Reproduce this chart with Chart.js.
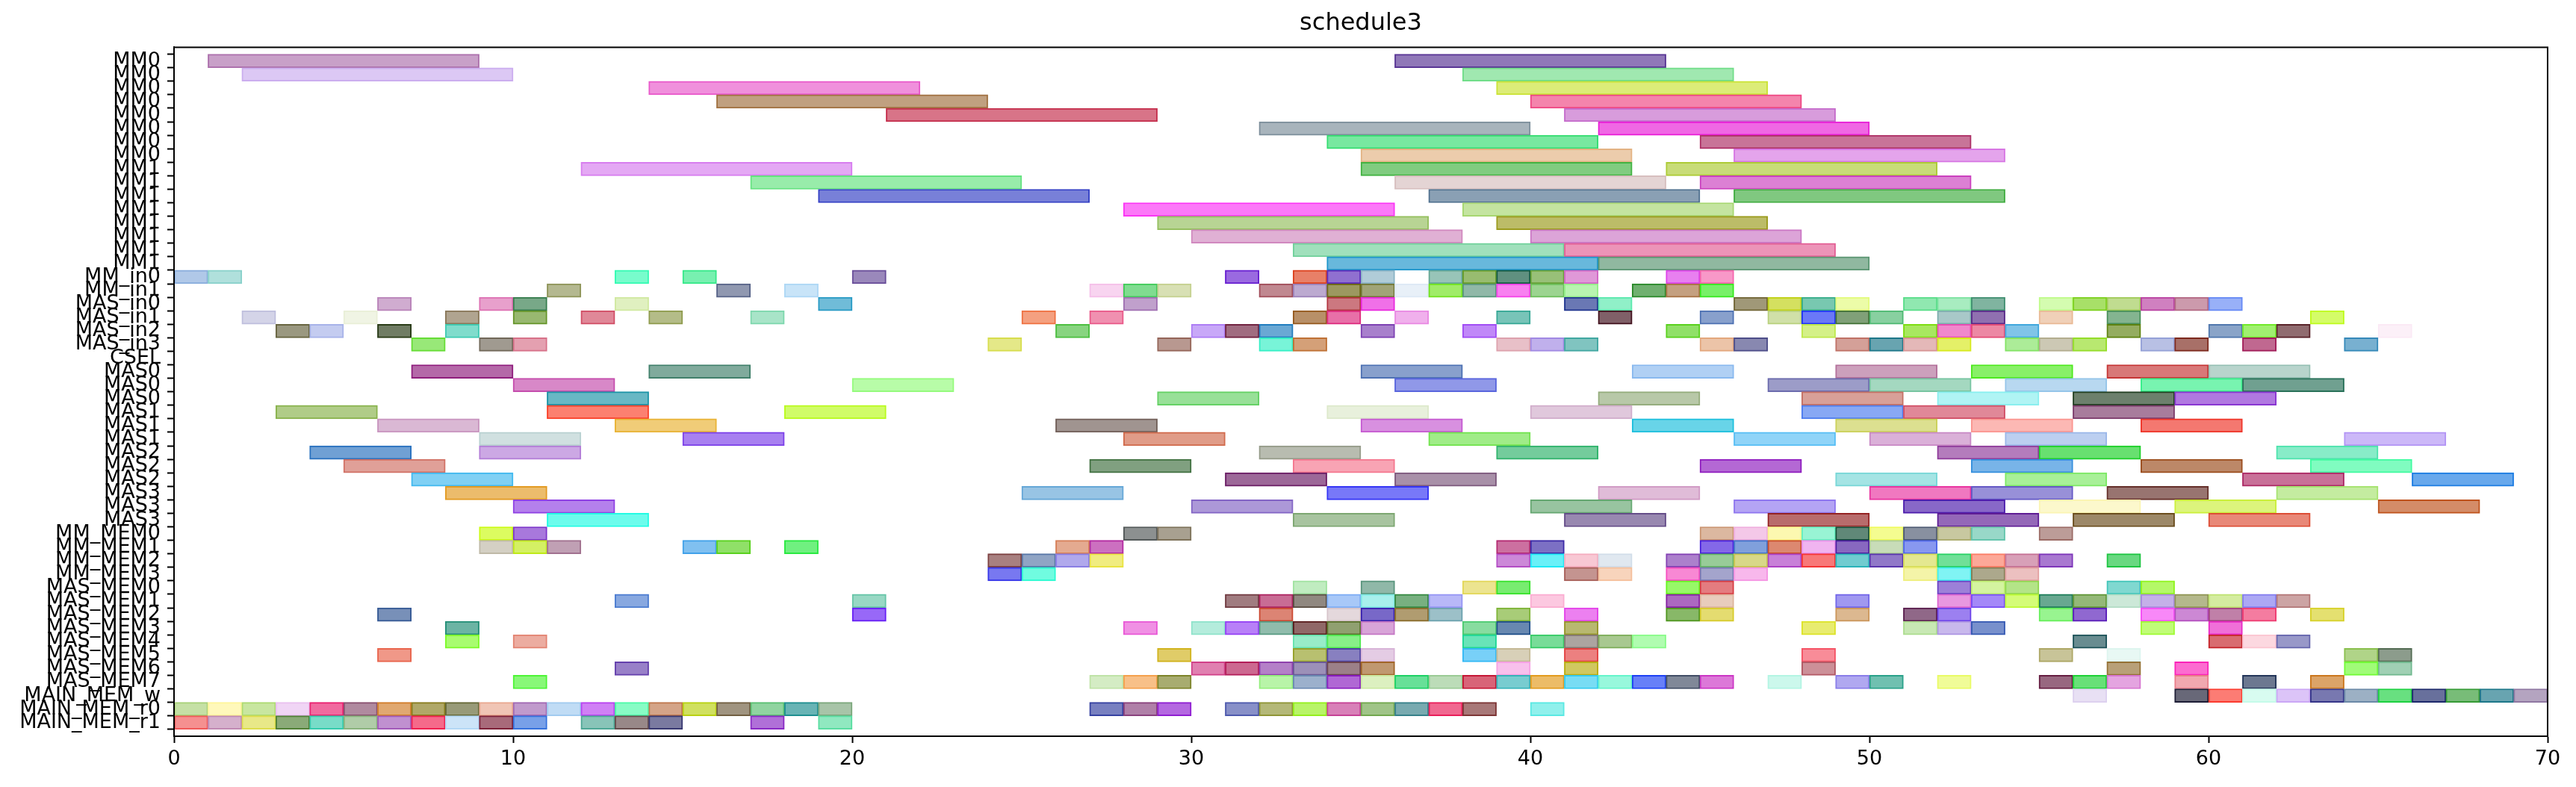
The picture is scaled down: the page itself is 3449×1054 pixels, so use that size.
<!DOCTYPE html>
<html><head><meta charset="utf-8">
<script src="https://cdn.jsdelivr.net/npm/chart.js@4.4.1/dist/chart.umd.min.js"></script>
<style>html,body{margin:0;padding:0;background:#fff;}#wrap{width:3449px;height:1054px;}</style>
</head><body><div id="wrap"><canvas id="c" width="3449" height="1054"></canvas></div>
<script>
const rowLabels = ['MM0','MM0','MM0','MM0','MM0','MM0','MM0','MM0',
  'MM1','MM1','MM1','MM1','MM1','MM1','MM1','MM1',
  'MM_in0','MM_in1','MAS_in0','MAS_in1','MAS_in2','MAS_in3','CSEL',
  'MAS0','MAS0','MAS0','MAS1','MAS1','MAS1','MAS2','MAS2','MAS2','MAS3','MAS3','MAS3',
  'MM_MEM0','MM_MEM1','MM_MEM2','MM_MEM3',
  'MAS_MEM0','MAS_MEM1','MAS_MEM2','MAS_MEM3','MAS_MEM4','MAS_MEM5','MAS_MEM6','MAS_MEM7',
  'MAIN_MEM_w','MAIN_MEM_r0','MAIN_MEM_r1'];

const xTicks = [0,10,20,30,40,50,60,70];

const barStarts = [
 [1,36],[2,38],[14,39],[16,40],[21,41],[32,42],[34,45],[35,46],
 [12,35,44],[17,36,45],[19,37,46],[28,38],[29,39],[30,40],[33,41],[34,42],
 [0,1,13,15,20,31,33,34,35,37,38,39,40,41,44,45],
 [11,16,18,27,28,29,32,33,34,35,36,37,38,39,40,41,43,44,45],
 [6,9,10,13,19,28,34,35,41,42,46,47,48,49,51,52,53,55,56,57,58,59,60],
 [2,5,8,10,12,14,17,25,27,33,34,36,39,42,45,47,48,49,50,52,53,55,57,63],
 [3,4,6,8,26,30,31,32,35,38,44,48,51,52,53,54,57,60,61,62,65],
 [7,9,10,24,29,32,33,39,40,41,45,46,49,50,51,52,54,55,56,58,59,61,64],
 [],
 [7,14,35,43,49,53,57,60],
 [10,20,36,47,50,54,58,61],
 [11,29,42,48,52,56,59],
 [3,11,18,34,40,48,51,56],
 [6,13,26,35,43,49,53,58],
 [9,15,28,37,46,50,54,64],
 [4,9,32,39,52,55,62],
 [5,27,33,45,53,58,63],
 [7,31,36,49,54,61,66],
 [8,25,34,42,50,53,57,62],
 [10,30,40,46,51,55,59,65],
 [11,33,41,47,52,56,60],
 [9,10,28,29,45,46,47,48,49,50,51,52,53,55],
 [9,10,11,15,16,18,26,27,39,40,45,46,47,48,49,50,51],
 [24,25,26,27,39,40,41,42,44,45,46,47,48,49,50,51,52,53,54,55,57],
 [24,25,41,42,44,45,46,51,52,53,54],
 [33,35,38,39,44,45,52,53,54,57,58],
 [13,20,31,32,33,34,35,36,37,40,44,45,49,52,53,54,55,56,57,58,59,60,61,62],
 [6,20,32,34,35,36,37,39,41,44,45,49,51,52,55,56,58,59,60,61,63],
 [8,28,30,31,32,33,34,35,38,39,41,48,51,52,53,58,60],
 [8,10,33,34,38,40,41,42,43,56,60,61,62],
 [6,29,33,34,35,38,39,41,48,55,57,64,65],
 [13,30,31,32,33,34,35,39,41,48,57,59,64,65],
 [10,27,28,29,32,33,34,35,36,37,38,39,40,41,42,43,44,45,47,49,50,52,55,56,57,59,61,63],
 [56,59,60,61,62,63,64,65,66,67,68,69],
 [0,1,2,3,4,5,6,7,8,9,10,11,12,13,14,15,16,17,18,19,27,28,29,31,32,33,34,35,36,37,38,40],
 [0,1,2,3,4,5,6,7,8,9,10,12,13,14,17,19]
];

const barEnds = [
 [9,44],[10,46],[22,47],[24,48],[29,49],[40,50],[42,53],[43,54],
 [20,43,52],[25,44,53],[27,45,54],[36,46],[37,47],[38,48],[41,49],[42,50],
 [1,2,14,16,21,32,34,35,36,38,39,40,41,42,45,46],
 [12,17,19,28,29,30,33,34,35,36,37,38,39,40,41,42,44,45,46],
 [7,10,11,14,20,29,35,36,42,43,47,48,49,50,52,53,54,56,57,58,59,60,61],
 [3,6,9,11,13,15,18,26,28,34,35,37,40,43,46,48,49,50,51,53,54,56,58,64],
 [4,5,7,9,27,31,32,33,36,39,45,49,52,53,54,55,58,61,62,63,66],
 [8,10,11,25,30,33,34,40,41,42,46,47,50,51,52,53,55,56,57,59,60,62,65],
 [],
 [10,17,38,46,52,56,60,63],
 [13,23,39,50,53,57,61,64],
 [14,32,45,51,55,59,62],
 [6,14,21,37,43,51,54,59],
 [9,16,29,38,46,52,56,61],
 [12,18,31,40,49,53,57,67],
 [7,12,35,42,55,58,65],
 [8,30,36,48,56,61,66],
 [10,34,39,52,57,64,69],
 [11,28,37,45,53,56,60,65],
 [13,33,43,49,54,58,62,68],
 [14,36,44,50,55,59,63],
 [10,11,29,30,46,47,48,49,50,51,52,53,54,56],
 [10,11,12,16,17,19,27,28,40,41,46,47,48,49,50,51,52],
 [25,26,27,28,40,41,42,43,45,46,47,48,49,50,51,52,53,54,55,56,58],
 [25,26,42,43,45,46,47,52,53,54,55],
 [34,36,39,40,45,46,53,54,55,58,59],
 [14,21,32,33,34,35,36,37,38,41,45,46,50,53,54,55,56,57,58,59,60,61,62,63],
 [7,21,33,35,36,37,38,40,42,45,46,50,52,53,56,57,59,60,61,62,64],
 [9,29,31,32,33,34,35,36,39,40,42,49,52,53,54,59,61],
 [9,11,34,35,39,41,42,43,44,57,61,62,63],
 [7,30,34,35,36,39,40,42,49,56,58,65,66],
 [14,31,32,33,34,35,36,40,42,49,58,60,65,66],
 [11,28,29,30,33,34,35,36,37,38,39,40,41,42,43,44,45,46,48,50,51,53,56,57,58,60,62,64],
 [57,60,61,62,63,64,65,66,67,68,69,70],
 [1,2,3,4,5,6,7,8,9,10,11,12,13,14,15,16,17,18,19,20,28,29,30,32,33,34,35,36,37,38,39,41],
 [1,2,3,4,5,6,7,8,9,10,11,13,14,15,18,20]
];

const barColors = [
 ['#c8a0c8','#9078b8'],['#dcc8f4','#a0e8b0'],['#f090dc','#dcec78'],['#c0a080','#f484ac'],
 ['#d87488','#d89cdc'],['#a8b4bc','#f068e4'],['#78e8a0','#c87498'],['#ecccac','#e4a4ec'],
 ['#e4a8f4','#80cc80','#c8dc78'],['#98ecaa','#e4d4d4','#dc80d4'],['#7880d8','#8aa0b4','#80c880'],
 ['#fc78f8','#c4e4a0'],['#b8d494','#bcbc68'],['#e0b0d4','#dca4d8'],['#a0e0bc','#ec94b8'],['#68b8dc','#90b8a0'],
 ['#b0c8e8','#b0e0dc','#78fccc','#78f0b0','#9a88bb','#9a6ae0','#e88068','#9070d0','#b0ccd8','#98c4b8','#98bc70','#609080','#98c078','#e098d8','#e880f0','#f898c8'],
 ['#b4b890','#9098b0','#c8e4f8','#f8d4f0','#80dc90','#d8e0b4','#c08890','#bcaad0','#9c9860','#a0a478','#e8f0f8','#a0ec68','#90b8a8','#f880f0','#9cd490','#b8f4b0','#70b070','#c4a080','#78f068'],
 ['#d0acd0','#e8a0cc','#78a888','#e0f0c0','#70bcd8','#c0a0cc','#cc7880','#f070e8','#6a78b4','#90f0c8','#a09878','#d4e060','#78c8b0','#ecfca8','#90e8b0','#a8ecc0','#80b4a0','#d4fcb0','#a8e068','#c0dc90','#d080c0','#cc9aac','#98b0f8'],
 ['#d4d4e8','#f0f4e4','#b0a490','#98b870','#e08898','#b4bc88','#a8e4c8','#f4a080','#f090b0','#b89068','#e870a8','#f0b0ec','#78c4b8','#806068','#88a0cc','#d0e0a8','#6a78f8','#80a078','#88d0a0','#a8c8c8','#9070b0','#f0d0b8','#84b490','#d4fc68'],
 ['#9a9880','#c4ccf0','#707c64','#80dccc','#88d480','#c8a8f8','#a06c80','#6aa8d4','#a880cc','#c088f8','#90e068','#d4f088','#a8e860','#f088cc','#ec88a4','#80c4e8','#94ac60','#8aa4c8','#a0f070','#906c70','#fcf0f8'],
 ['#98e878','#a09a90','#e4a0b0','#e4e888','#b89890','#78f4d8','#d4a078','#e8c0c8','#c0b0ec','#80c4c0','#ecc4a8','#8888b0','#d4a098','#68a4b0','#e4b8b8','#e4f068','#acec98','#ccc8b4','#b8e870','#b8c0e4','#a87068','#c06890','#78b0d0'],
 [],
 ['#b468a8','#80aa9c','#88a0cc','#b0d0f4','#cca0bc','#88f068','#d87878','#b8d4cc'],
 ['#d888c8','#b8fca8','#9098e8','#9c9cc8','#a4d8c0','#b8d8f0','#78f4b0','#70a090'],
 ['#68b8c4','#98e098','#b8c8a8','#d8a098','#b0f4f4','#6c806c','#b078e0'],
 ['#b0cc88','#fc8070','#d0fc68','#e8f0dc','#e0c8dc','#88a8f4','#e08898','#a87c9c'],
 ['#dab8d4','#f0cc78','#a09490','#d890e0','#68d4e8','#dce090','#fcb8b4','#f47870'],
 ['#d0e0e0','#a880f0','#e09c88','#a0ec88','#90d4f8','#dab0d8','#bccff0','#ccb8f8'],
 ['#70a0d4','#cca8e4','#b8bcb0','#74cc9c','#b47cbc','#68e070','#88ecc8'],
 ['#e0a098','#80a080','#f8a4b4','#b468d4','#78b4e8','#bc8868','#80fcc0'],
 ['#80d0f4','#9c6898','#a890a8','#a4e4e4','#a8f098','#c87098','#68a8ec'],
 ['#ecbc6c','#98c4e4','#7878f8','#e0bcd8','#f078c0','#9890d8','#987470','#c4eca0'],
 ['#b480ec','#ac98d8','#98c4a0','#b4a4f4','#8868c8','#fcf8cc','#dcf47c','#d48c68'],
 ['#6cfcec','#a8c4a0','#9888b0','#b86c6c','#9468b8','#9c8868','#e88878'],
 ['#dcfc60','#a878dc','#8c9090','#a8a090','#dcb8a0','#f4c8e8','#fcf8b0','#98f4d4','#608878','#f4fc90','#8890a0','#c8c8a0','#98d8c8','#bc9c98'],
 ['#d4d0c4','#d4f064','#c0a0b4','#80c0f0','#90e068','#70f080','#e4aa90','#cc70c0','#cc70a0','#7c70c4','#8468e8','#80a0dc','#dc8870','#f0b4f0','#8868c0','#c8dcb8','#8898f0'],
 ['#a88080','#90a4c4','#b0a8ec','#f0ec80','#cc88d8','#68f0f8','#f8c8d4','#e0e8f0','#ac80cc','#98cc98','#d8d888','#c880d8','#f87878','#70ccd0','#9078c8','#e4e890','#70e098','#fca898','#d8a0b8','#a878d0','#68d880'],
 ['#7878f0','#70fce0','#c49490','#f8d4bc','#f888d4','#a4a4cc','#f8b8ec','#f4f4a8','#80f4f4','#aca88c','#ecc0c0'],
 ['#c0ecc0','#90b8a8','#ece490','#78ec70','#98f868','#e47c80','#9c80d8','#d4f4a0','#b4e488','#80d8d0','#b4f868'],
 ['#88a8e0','#98d8c4','#a07c80','#c86c94','#908880','#a8c8f8','#a8f0ec','#78b080','#b8b8f8','#fcc8e0','#ac68c0','#e8ccbc','#a098f0','#e898e0','#a488f8','#d4fc78','#68a890','#94b878','#cce8d8','#c4b0e8','#b4b88c','#d4eca0','#aca8f4','#cca4a4'],
 ['#7890b8','#9868f8','#dc8474','#e4d8dc','#7868c8','#b09c70','#9cc0c8','#a8cc78','#ec80f0','#88b868','#e4dc70','#dcb890','#906888','#9c80f0','#98f490','#9068d0','#f888f8','#cc88d4','#c080a8','#f47ca0','#e4e070'],
 ['#6cb4a4','#f090e4','#b4ecdc','#b880f8','#90bcac','#906868','#90a070','#d8a4d8','#88dca0','#6888b0','#b8b870','#e8ec70','#c8e8b4','#c8b8ec','#7890cc','#c0fc78','#f070d8'],
 ['#a8fc70','#ecaca0','#98ecc8','#88f088','#68e4b8','#78dc98','#aca4a0','#a8c890','#b0fcb0','#688c90','#d86c70','#fcd8e0','#9898c8'],
 ['#f09888','#e0cc68','#b8c070','#8880c0','#e4cce4','#78d0f8','#d8d0b8','#ec8080','#f88c98','#c8c498','#e8f8f4','#b0d488','#8c9c8c'],
 ['#9880c8','#e080b0','#cc6890','#b480c8','#9c90b8','#9c8088','#c09870','#f8c0ec','#d0c860','#cc9098','#b8a078','#fc6cd0','#a0fc78','#a0d0b4'],
 ['#88f878','#d4ecc4','#f8c088','#a8ac70','#b8f4a8','#9cb0cc','#b068d4','#dcf0c0','#68e098','#bcdcb8','#d86478','#78ccd0','#ecbc68','#78dcf4','#98f8dc','#6880f8','#808898','#dc78d8','#ccf8ec','#b0a8f0','#70c0b0','#f0fc98','#986880','#68e078','#e4a4e0','#f0a8b0','#6c7890','#dca468'],
 ['#e8e0f4','#686878','#fc7c74','#d8fcf0','#dcc4f8','#7878b0','#9cb0c4','#68e080','#68709c','#78bc78','#68a4b0','#b4a4c0'],
 ['#c5e0a5','#fff8bb','#c8e6a0','#f0d5f5','#f06a9f','#b08a9f','#e0a870','#b0a868','#989a78','#f0c5b5','#c09acc','#c0dcf5','#d080f5','#88fcc5','#d4a488','#d0e060','#a09480','#90d4a0','#68b4b5','#a8c4a8','#7880c0','#b080a8','#b468e0','#8890c8','#b4b878','#b8f468','#d880b8','#a0c488','#78aab0','#f06890','#a87878','#90f0ec'],
 ['#f59090','#d5b0cc','#e8e888','#8aaa78','#78dcc8','#b0cca8','#c090d0','#f56a8a','#cce4f8','#a86a7a','#78a0e8','#88c4b8','#988888','#7a7aa0','#b070d8','#90e8c0']
];

function edgeOf(hex) {
  const n = parseInt(hex.slice(1), 16);
  const ch = [(n >> 16) & 255, (n >> 8) & 255, n & 255].map(c => Math.max(0, Math.round(255 - 1.5 * (255 - c))));
  return 'rgb(' + ch.join(',') + ')';
}

const points = [], fills = [], edges = [];
rowLabels.forEach((_, r) => {
  barStarts[r].forEach((s, j) => {
    points.push({ x: [s, barEnds[r][j]], y: r });
    fills.push(barColors[r][j]);
    edges.push(edgeOf(barColors[r][j]));
  });
});

Chart.defaults.font.family = "'DejaVu Sans', sans-serif";
Chart.defaults.color = '#000';

const framePlugin = {
  id: 'frame',
  afterDatasetsDraw(chart) {
    const a = chart.chartArea, c = chart.ctx;
    c.save();
    c.strokeStyle = '#000';
    c.lineWidth = 2;
    c.strokeRect(a.left, a.top, a.right - a.left, a.bottom - a.top);
    c.restore();
  }
};

const gridOpts = { display: true, drawOnChartArea: false, drawTicks: true, tickLength: 9, tickWidth: 2, tickColor: '#000' };

new Chart(document.getElementById('c'), {
  type: 'bar',
  data: { datasets: [{ data: points, backgroundColor: fills, borderColor: edges, borderWidth: 2, borderSkipped: false, categoryPercentage: 1, barPercentage: 1 }] },
  options: {
    indexAxis: 'y',
    responsive: false,
    animation: false,
    devicePixelRatio: 1,
    layout: { padding: { left: 0, right: 38, top: 0, bottom: 0 } },
    plugins: {
      legend: { display: false },
      tooltip: { enabled: false },
      title: { display: true, text: 'schedule3', color: '#000', fullSize: false, font: { size: 32, weight: 'normal' }, padding: { top: 12, bottom: 13 } }
    },
    scales: {
      x: {
        type: 'linear', position: 'bottom', min: 0, max: 70,
        afterBuildTicks: (ax) => { ax.ticks = xTicks.map(v => ({ value: v })); },
        afterFit: (ax) => { ax.height = 68; },
        ticks: { font: { size: 27 }, padding: 6, maxRotation: 0, autoSkip: false, color: '#000' },
        grid: gridOpts,
        border: { display: true, color: '#000', width: 2 }
      },
      y: {
        type: 'linear', reverse: true, min: -0.5, max: 49.5,
        afterBuildTicks: (ax) => { ax.ticks = rowLabels.map((_, i) => ({ value: i })); },
        afterFit: (ax) => { ax.width = 233; },
        ticks: { font: { size: 27 }, padding: 9, autoSkip: false, color: '#000', callback: (v) => rowLabels[v] },
        grid: gridOpts,
        border: { display: true, color: '#000', width: 2 }
      }
    }
  },
  plugins: [framePlugin]
});
</script>
</body></html>
